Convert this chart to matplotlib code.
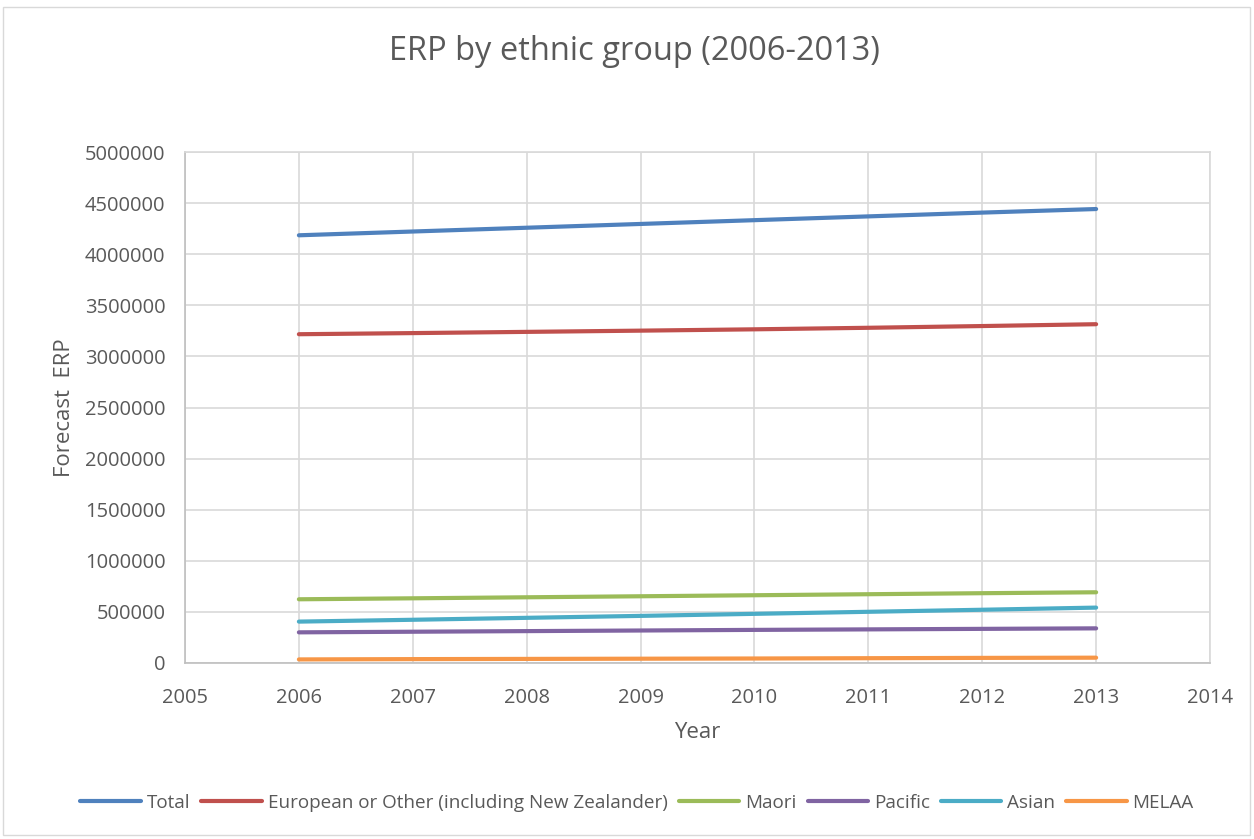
import matplotlib
matplotlib.use("Agg")
import matplotlib.pyplot as plt
from matplotlib import font_manager
from matplotlib.patches import Rectangle

years = [2006, 2007, 2008, 2009, 2010, 2011, 2012, 2013]
total = [4185000, 4222000, 4259000, 4296000, 4333000, 4370000, 4407000, 4442000]
european = [3217000, 3228000, 3240000, 3252000, 3265000, 3280000, 3297000, 3315000]
maori = [623500, 633000, 643000, 653000, 663000, 673000, 683000, 692000]
pacific = [300000, 306000, 312000, 318000, 324000, 329000, 334000, 339000]
asian = [405000, 423000, 442000, 461000, 481000, 501000, 521000, 542000]
melaa = [35000, 38000, 40000, 42000, 44000, 47000, 50000, 52000]

series_names = ["Total", "European or Other (including New Zealander)", "Maori",
                "Pacific", "Asian", "MELAA"]
series_vals = [total, european, maori, pacific, asian, melaa]
colors = ["#4F81BD", "#C0504D", "#9BBB59", "#8064A2", "#4BACC6", "#F79646"]

avail = {f.name for f in font_manager.fontManager.ttflist}
fam = "Liberation Sans Narrow" if "Liberation Sans Narrow" in avail else "Open Sans"
plt.rcParams['font.family'] = [fam, 'DejaVu Sans']

W, H = 1254, 839
fig = plt.figure(figsize=(W/100, H/100), dpi=100)
fig.patches.append(Rectangle((3/W, 1-835/H), 1247/W, 828/H, transform=fig.transFigure,
                             fill=False, edgecolor="#D9D9D9", linewidth=1))
ax = fig.add_axes([185/W, 1-663/H, (1210-185)/W, (663-152)/H])

for name, vals, c in zip(series_names, series_vals, colors):
    ax.plot(years, vals, color=c, linewidth=3.0, label=name, solid_capstyle='round')

ax.set_xlim(2005, 2014)
ax.set_ylim(0, 5000000)
ax.set_xticks(range(2005, 2015))
ax.set_yticks(range(0, 5000001, 500000))
ax.set_yticklabels([str(v) for v in range(0, 5000001, 500000)])
ax.grid(True, color="#D9D9D9", linewidth=1.2)
ax.set_axisbelow(True)
for s in ax.spines.values():
    s.set_color("#D9D9D9")
    s.set_linewidth(1.2)
ax.spines['left'].set_color("#BFBFBF")
ax.spines['bottom'].set_color("#BFBFBF")
ax.tick_params(axis='y', length=0, labelsize=14.5, colors="#595959", pad=14)
ax.tick_params(axis='x', length=0, labelsize=14.5, colors="#595959", pad=18)
ax.set_xlabel("Year", fontsize=16, color="#595959", labelpad=10)
ax.set_ylabel("Forecast  ERP", fontsize=16, color="#595959", labelpad=7)
fig.text(634/W, 1-51/H, "ERP by ethnic group (2006-2013)", ha="center", va="center",
         fontsize=23.5, color="#595959")
leg = fig.legend(loc="center", bbox_to_anchor=(637/W, 1-803/H), ncol=6, frameon=False,
                 fontsize=13.6, handlelength=3.2, handletextpad=0.3, columnspacing=0.6,
                 labelcolor="#595959")
fig.savefig("out.png", dpi=100)
